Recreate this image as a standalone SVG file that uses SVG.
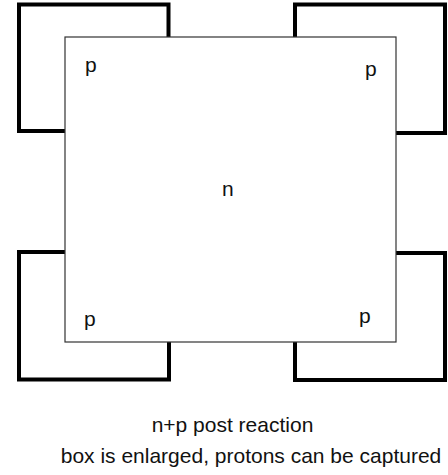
<svg xmlns="http://www.w3.org/2000/svg" width="448" height="475" viewBox="0 0 448 475">
<style>
.br{fill:none;stroke:#000;stroke-width:4;stroke-linejoin:miter}
.box{fill:#fff;stroke:#333;stroke-width:1.2}
text{font-family:"Liberation Sans",Arial,Helvetica,sans-serif;fill:#111}
.lab{font-size:21px}
.cap{font-size:21px;text-anchor:middle}
</style>
<rect width="448" height="475" fill="#fff"/>
<g id="brackets">
<path class="br" d="M65,131 H19 V4.5 H168.5 V37"/>
<path class="br" d="M295,37 V4.5 H445 V133 H396"/>
<path class="br" d="M65,252 H19 V379.5 H169 V342"/>
<path class="br" d="M396,253 H445 V380 H295 V342"/>
</g>
<g id="box-n">
<rect class="box" x="65" y="37" width="331" height="305"/>
<text class="lab" x="222" y="196">n</text>
</g>
<g id="p-tl"><text class="lab" x="85" y="72">p</text></g>
<g id="p-tr"><text class="lab" x="365" y="76">p</text></g>
<g id="p-bl"><text class="lab" x="84" y="326">p</text></g>
<g id="p-br"><text class="lab" x="359" y="323">p</text></g>
<g id="caption">
<text class="cap" x="232.5" y="432">n+p post reaction</text>
<text class="cap" x="251" y="463">box is enlarged, protons can be captured</text>
</g>
</svg>
